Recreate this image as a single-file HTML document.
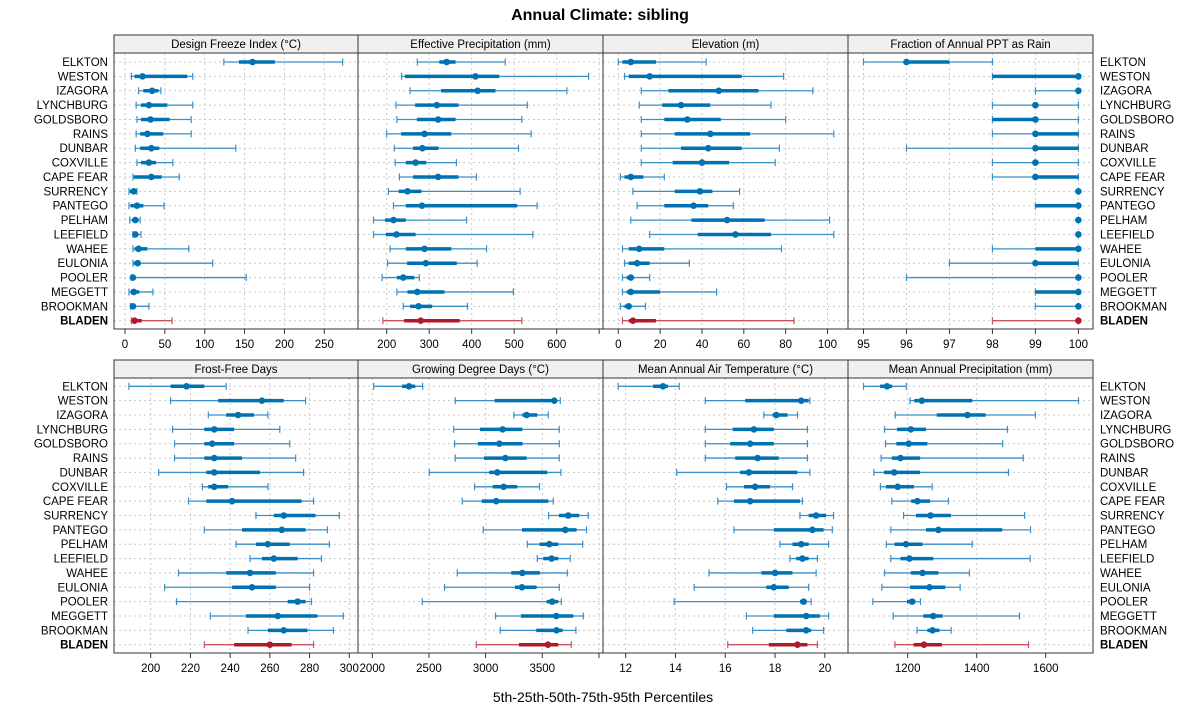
<!DOCTYPE html>
<html><head><meta charset="utf-8">
<style>
body{margin:0;background:#fff;}
svg{display:block;font-family:"Liberation Sans",sans-serif;}
</style></head>
<body>
<svg id="chart" width="1200" height="725" viewBox="0 0 1200 725" xmlns="http://www.w3.org/2000/svg">
<text x="600" y="20" text-anchor="middle" font-size="16" font-weight="bold">Annual Climate: sibling</text>
<text x="603" y="702" text-anchor="middle" font-size="14">5th-25th-50th-75th-95th Percentiles</text>
</svg>
<script>
const sites = ["ELKTON","WESTON","IZAGORA","LYNCHBURG","GOLDSBORO","RAINS","DUNBAR","COXVILLE","CAPE FEAR","SURRENCY","PANTEGO","PELHAM","LEEFIELD","WAHEE","EULONIA","POOLER","MEGGETT","BROOKMAN","BLADEN"];
const highlightSite = "BLADEN";

const designFreeze = [[124,143,160,188,273],[8,12,22,78,85],[17,23,34,42,45],[14,20,30,53,85],[15,20,32,56,83],[14,19,28,48,83],[13,19,33,43,139],[15,20,30,39,60],[10,11,33,46,68],[5,6,11,14,15],[5,7,15,23,49],[6,9,13,17,19],[10,11,13,15,20],[10,12,17,28,80],[10,11,16,19,110],[8,9,10,12,152],[5,7,11,18,35],[7,8,10,13,30],[8,10,12,21,59]];
const effPrecip = [[272,324,341,362,479],[235,243,409,465,675],[255,328,414,456,624],[222,267,318,369,531],[224,271,321,362,518],[200,234,289,352,540],[218,262,284,322,510],[220,245,268,293,364],[230,262,321,369,411],[204,228,249,282,514],[216,245,283,507,554],[169,196,216,245,388],[169,198,223,268,544],[208,245,289,352,435],[202,248,292,365,413],[189,224,239,265,277],[224,249,272,336,498],[239,255,275,307,390],[191,241,280,372,518]];
const elevation = [[0,2,6,18,42],[3,5,15,59,79],[11,24,48,67,93],[10,21,30,44,73],[11,22,33,49,80],[11,27,44,63,103],[11,30,43,59,77],[11,26,40,53,75],[1,3,6,12,22],[7,27,39,45,58],[9,22,36,43,55],[6,35,52,70,101],[15,38,56,73,103],[2,5,10,22,78],[3,5,9,15,34],[2,4,6,7,15],[2,4,6,20,47],[1,3,5,6,13],[2,5,7,18,84]];
const fracRain = [[95,96,96,97,98],[98,98,100,100,100],[99,100,100,100,100],[98,99,99,99,100],[98,98,99,99,100],[98,99,99,100,100],[96,99,99,100,100],[98,99,99,99,100],[98,99,99,100,100],[100,100,100,100,100],[99,99,100,100,100],[100,100,100,100,100],[100,100,100,100,100],[98,99,100,100,100],[97,99,99,100,100],[96,100,100,100,100],[99,99,100,100,100],[99,100,100,100,100],[98,100,100,100,100]];
const frostFree = [[189,210,218,227,238],[210,234,256,267,278],[229,238,244,252,259],[211,227,232,242,265],[212,227,231,242,270],[212,227,232,246,273],[204,228,232,255,277],[226,229,232,239,259],[219,228,241,276,282],[253,262,267,283,295],[227,246,266,278,289],[243,253,259,270,290],[250,256,262,274,286],[214,238,250,263,282],[207,241,251,263,280],[213,269,274,278,281],[230,248,264,284,297],[249,259,267,279,292],[227,242,260,271,282]];
const gdd = [[2012,2262,2324,2379,2444],[2732,3079,3606,3621,3659],[3250,3324,3362,3456,3553],[2718,2950,3150,3324,3650],[2726,2932,3121,3326,3650],[2732,2985,3174,3362,3650],[2503,3032,3103,3544,3665],[2903,3062,3159,3279,3476],[2794,2965,3094,3553,3597],[3556,3647,3729,3826,3906],[2979,3321,3703,3803,3891],[3368,3476,3562,3641,3856],[3456,3509,3582,3641,3747],[2750,3226,3324,3479,3721],[2638,3259,3321,3450,3650],[2441,3538,3588,3641,3668],[3088,3312,3624,3774,3862],[3129,3447,3626,3679,3797],[2918,3294,3550,3641,3756]];
const maat = [[11.7,13.1,13.5,13.7,14.15],[15.2,16.8,19.05,19.35,19.4],[17.55,17.9,18.05,18.5,18.9],[15.2,16.3,17.15,17.95,19.3],[15.2,16.2,17.0,17.95,19.3],[15.2,16.4,17.3,18.15,19.3],[14.05,16.6,16.95,18.9,19.4],[16.05,16.75,17.2,17.8,18.7],[15.7,16.35,17.0,19.0,19.1],[19.0,19.35,19.65,20.05,20.35],[16.35,17.95,19.5,19.95,20.3],[18.2,18.7,19.05,19.35,20.15],[18.6,18.85,19.1,19.35,19.7],[15.35,17.45,18.0,18.7,19.65],[14.75,17.65,17.95,18.55,19.35],[13.95,19.0,19.15,19.25,19.45],[16.85,17.95,19.25,19.8,20.15],[17.1,18.45,19.25,19.45,19.95],[16.1,17.75,18.9,19.3,19.7]];
const map = [[1072,1120,1140,1155,1196],[1207,1219,1241,1387,1695],[1164,1284,1373,1426,1570],[1133,1169,1209,1253,1489],[1136,1167,1203,1257,1475],[1123,1154,1179,1236,1535],[1102,1131,1161,1236,1492],[1121,1137,1171,1218,1271],[1154,1210,1228,1265,1318],[1188,1224,1266,1325,1539],[1151,1253,1289,1474,1556],[1138,1162,1195,1243,1387],[1151,1179,1205,1274,1555],[1133,1209,1243,1289,1379],[1125,1207,1263,1309,1352],[1099,1198,1213,1222,1237],[1158,1245,1274,1301,1524],[1227,1257,1272,1292,1326],[1163,1217,1247,1299,1550]];

const ticksDFI = [0,50,100,150,200,250];
const ticksEP = [200,300,400,500,600,700];
const ticksEL = [0,20,40,60,80,100];
const ticksFR = [95,96,97,98,99,100];
const ticksFF = [200,220,240,260,280,300];
const ticksGDD = [2000,2500,3000,3500,4000];
const ticksMAAT = [12,14,16,18,20];
const ticksMAP = [1200,1400,1600];
const unlabeled = [700,4000];

const panels = [
 {title:"Design Freeze Index (°C)", data:designFreeze, ticks:ticksDFI, dom:[-13.8,292.3], x0:114, x1:358, row:0, name:"design-freeze-index"},
 {title:"Effective Precipitation (mm)", data:effPrecip, ticks:ticksEP, dom:[132.5,709], x0:358, x1:603, row:0, name:"effective-precipitation"},
 {title:"Elevation (m)", data:elevation, ticks:ticksEL, dom:[-7.3,109.8], x0:603, x1:848, row:0, name:"elevation"},
 {title:"Fraction of Annual PPT as Rain", data:fracRain, ticks:ticksFR, dom:[94.64,100.34], x0:848, x1:1093, row:0, name:"fraction-rain"},
 {title:"Frost-Free Days", data:frostFree, ticks:ticksFF, dom:[181.5,304.4], x0:114, x1:358, row:1, name:"frost-free-days"},
 {title:"Growing Degree Days (°C)", data:gdd, ticks:ticksGDD, dom:[1873.8,4036], x0:358, x1:603, row:1, name:"growing-degree-days"},
 {title:"Mean Annual Air Temperature (°C)", data:maat, ticks:ticksMAAT, dom:[11.09,20.93], x0:603, x1:848, row:1, name:"mean-annual-air-temperature"},
 {title:"Mean Annual Precipitation (mm)", data:map, ticks:ticksMAP, dom:[1027,1737], x0:848, x1:1093, row:1, name:"mean-annual-precipitation"}
];
const rows = [{hTop:35,pTop:53,pBot:329,y0:62,y1:320.7},{hTop:360,pTop:378,pBot:653,y0:386.3,y1:644.7}];

const svg = document.getElementById('chart');
const NS = "http://www.w3.org/2000/svg";
function mk(tag, attrs, parent){
  const e = document.createElementNS(NS, tag);
  for (const k in attrs) e.setAttribute(k, attrs[k]);
  (parent||svg).appendChild(e);
  return e;
}
function yPos(r, i){ const R = rows[r]; return R.y0 + i*(R.y1-R.y0)/(sites.length-1); }

rows.forEach((R, r) => {
  sites.forEach((s, i) => {
    const y = yPos(r, i) + 4;
    const bold = s === highlightSite ? "bold" : "normal";
    const l = mk('text', {x:108, y:y, 'text-anchor':'end', 'font-size':11.5, 'font-weight':bold});
    
    
    l.textContent = s;
    const rr = mk('text', {x:1100, y:y, 'text-anchor':'start', 'font-size':11.5, 'font-weight':bold});
    
    
    rr.textContent = s;
  });
});

panels.forEach(p => {
  const R = rows[p.row];
  const sx = v => p.x0 + (v - p.dom[0]) / (p.dom[1] - p.dom[0]) * (p.x1 - p.x0);
  const g = mk('g', {});
  
  
  const h = mk('rect', {x:p.x0, y:R.hTop, width:p.x1-p.x0, height:R.pTop-R.hTop, fill:'#f0f0f0', stroke:'#333', 'stroke-width':1}, g);
  
  
  const ht = mk('text', {x:(p.x0+p.x1)/2, y:R.pTop-5, 'text-anchor':'middle', 'font-size':11.5}, g);
  
  
  ht.textContent = p.title;
  p.ticks.forEach(t => {
    const x = sx(t);
    if (x > p.x0 + 1 && x < p.x1 - 1) {
      const gl = mk('line', {x1:x, x2:x, y1:R.pTop, y2:R.pBot, stroke:'#c8c8c8', 'stroke-dasharray':'2,3', 'stroke-width':1}, g);
      
      
    }
  });
  sites.forEach((s, i) => {
    const y = yPos(p.row, i);
    const gl = mk('line', {x1:p.x0, x2:p.x1, y1:y, y2:y, stroke:'#c8c8c8', 'stroke-dasharray':'2,3', 'stroke-width':1}, g);
    
    
  });
  const fr = mk('rect', {x:p.x0, y:R.pTop, width:p.x1-p.x0, height:R.pBot-R.pTop, fill:'none', stroke:'#333', 'stroke-width':1}, g);
  
  
  p.ticks.forEach(t => {
    const x = sx(t);
    if (x < p.x0 - 0.5 || x > p.x1 + 0.5) return;
    const tk = mk('line', {x1:x, x2:x, y1:R.pBot, y2:R.pBot+5, stroke:'#333'}, g);
    
    
    if (unlabeled.indexOf(t) < 0) {
      const tl = mk('text', {x:x, y:R.pBot+19, 'text-anchor':'middle', 'font-size':11.5}, g);
      
      
      tl.textContent = t;
    }
  });
  p.data.forEach((d, i) => {
    const y = yPos(p.row, i);
    const hi = sites[i] === highlightSite;
    const dark = hi ? '#b2182b' : '#0072b2';
    const light = hi ? '#c9545f' : '#3a8fc8';
    const w = mk('line', {x1:sx(d[0]), x2:sx(d[4]), y1:y, y2:y, stroke:light, 'stroke-width':1.3}, g);
    
    
    [d[0], d[4]].forEach(v => {
      const c = mk('line', {x1:sx(v), x2:sx(v), y1:y-3.5, y2:y+3.5, stroke:light, 'stroke-width':1.2}, g);
      
      
    });
    const b = mk('line', {x1:sx(d[1]), x2:sx(d[3]), y1:y, y2:y, stroke:dark, 'stroke-width':3.5}, g);
    
    
    const pt = mk('circle', {cx:sx(d[2]), cy:y, r:3.3, fill:dark}, g);
    
    
  });
});
</script>
</body></html>
